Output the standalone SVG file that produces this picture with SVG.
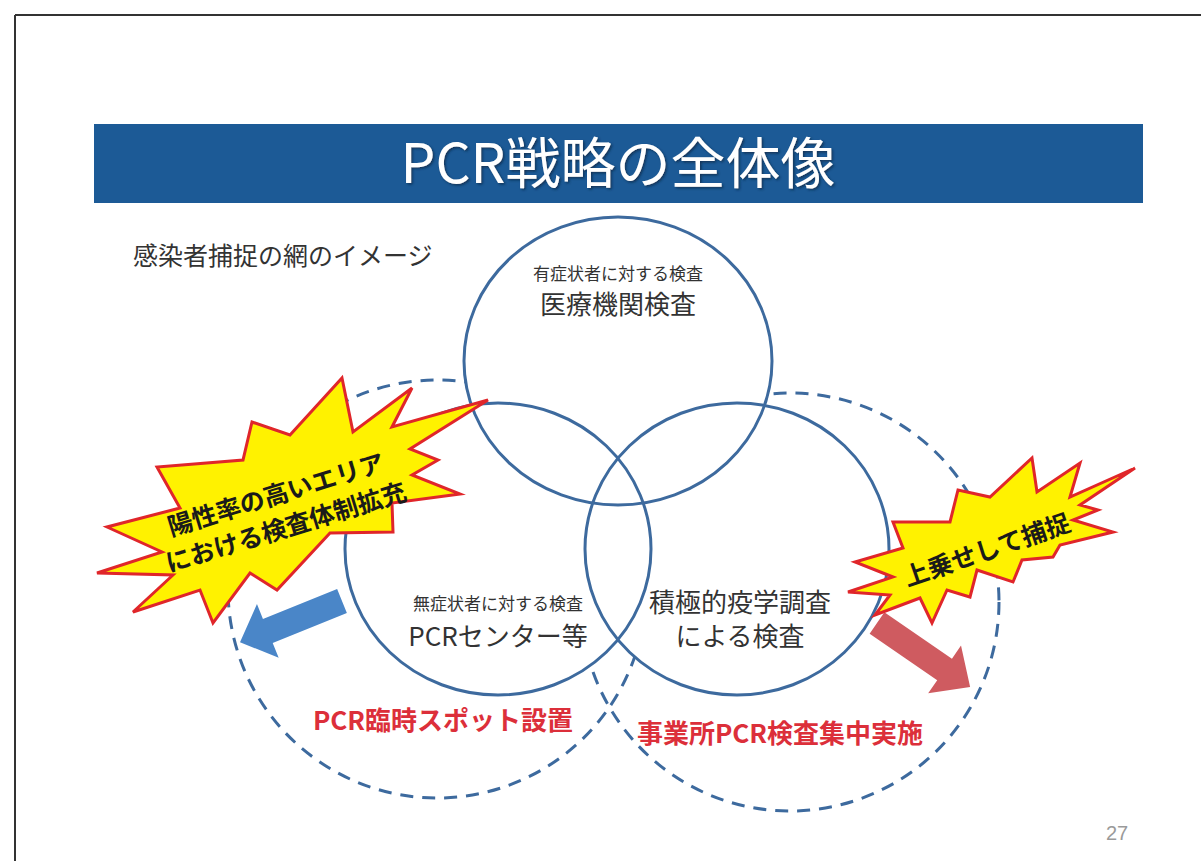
<svg xmlns="http://www.w3.org/2000/svg" width="1201" height="861" viewBox="0 0 1201 861">
<defs>
<style>
.jp{font-family:"Noto Sans CJK JP","Noto Sans",sans-serif;}
.solid{fill:none;stroke:#3d6a9e;stroke-width:3;}
.fillw{fill:#ffffff;stroke:none;}
.dash{fill:none;stroke:#3d6a9e;stroke-width:3;stroke-dasharray:13 9;}
.star{fill:#fff200;stroke:#e0262a;stroke-width:3;stroke-linejoin:miter;}
.label{fill:#333333;text-anchor:middle;}
.red{fill:#dc2f3a;font-weight:bold;text-anchor:middle;}
.star-text{fill:#1a1a1a;font-weight:bold;text-anchor:middle;font-size:25px;}
</style>
<filter id="sh" x="-5%" y="-20%" width="110%" height="140%">
<feDropShadow dx="1.5" dy="1.5" stdDeviation="1" flood-color="#0a2a4a" flood-opacity="0.8"/>
</filter>
</defs>
<rect x="0" y="0" width="1201" height="861" fill="#ffffff"/>
<g id="frame">
<line x1="15" y1="15" x2="1201" y2="15" stroke="#333" stroke-width="2"/>
<line x1="15" y1="15" x2="15" y2="861" stroke="#333" stroke-width="2"/>
</g>
<g id="title">
<rect x="94" y="124" width="1049" height="79" fill="#1c5a96"/>
<text class="jp" x="618" y="183" font-size="55" fill="#ffffff" text-anchor="middle" filter="url(#sh)">PCR戦略の全体像</text>
</g>
<g id="subtitle">
<text class="jp" x="133" y="265" font-size="25" fill="#333333">感染者捕捉の網のイメージ</text>
</g>
<g id="dashed-left"><circle class="dash" cx="437" cy="589" r="209"/></g>
<g id="dashed-right"><circle class="dash" cx="790" cy="602" r="209"/></g>
<g id="circle-fills">
<ellipse class="fillw" cx="618" cy="361" rx="154" ry="144"/>
<ellipse class="fillw" cx="498" cy="549" rx="153" ry="146"/>
<ellipse class="fillw" cx="737" cy="549" rx="152" ry="146"/>
</g>
<g id="node-medical">
<ellipse class="solid" cx="618" cy="361" rx="154" ry="144"/>
<text class="jp label" x="618" y="280" font-size="17">有症状者に対する検査</text>
<text class="jp label" x="618" y="314" font-size="26">医療機関検査</text>
</g>
<g id="node-pcr-center">
<ellipse class="solid" cx="498" cy="549" rx="153" ry="146"/>
<text class="jp label" x="498" y="610" font-size="17">無症状者に対する検査</text>
<text class="jp label" x="498" y="646" font-size="26">PCRセンター等</text>
</g>
<g id="node-epi">
<ellipse class="solid" cx="737" cy="549" rx="152" ry="146"/>
<text class="jp label" x="740" y="612" font-size="26">積極的疫学調査</text>
<text class="jp label" x="740" y="646" font-size="26">による検査</text>
</g>
<g id="label-spot">
<text class="jp red" x="443" y="730" font-size="26">PCR臨時スポット設置</text>
</g>
<g id="label-office">
<text class="jp red" x="780" y="743" font-size="26">事業所PCR検査集中実施</text>
</g>
<g id="connectors">
<polygon transform="translate(342,601) rotate(158)" points="0,-13 80,-13 80,-29 110,0 80,29 80,13 0,13" fill="#4a86c8"/>
<polygon transform="translate(877,623) rotate(34.5)" points="0,-13 82,-13 82,-29 113,0 82,29 82,13 0,13" fill="#cf5b60"/>
</g>
<g id="star-left">
<polygon class="star" points="342,378 353,432 412,388 392,427 488,400 410,449 438,460 412,475 460,494 392,503 393,532 330,533 277,590 250,573 213,623 200,590 133,612 173,575 97,573 162,552 107,527 180,508 157,467 243,460 252,422 290,435"/>
<g transform="translate(281,511) rotate(-17)">
<text class="jp star-text" x="0" y="-8">陽性率の高いエリア</text>
<text class="jp star-text" x="0" y="26">における検査体制拡充</text>
</g>
</g>
<g id="star-right">
<polygon class="star" points="1032,458 1037,492 1080,463 1070,497 1135,468 1080,505 1098,510 1073,520 1113,532 1060,545 1053,557 1022,560 1013,582 977,570 970,597 947,590 932,623 920,598 875,615 890,595 848,592 893,577 855,562 903,548 893,522 950,522 958,490 990,497"/>
<g transform="translate(987,550) rotate(-19)">
<text class="jp star-text" x="0" y="9" font-size="26">上乗せして捕捉</text>
</g>
</g>
<g id="page-number">
<text x="1106" y="840" font-family="Liberation Sans, Arial, sans-serif" font-size="20" fill="#9a9a9a">27</text>
</g>
</svg>
